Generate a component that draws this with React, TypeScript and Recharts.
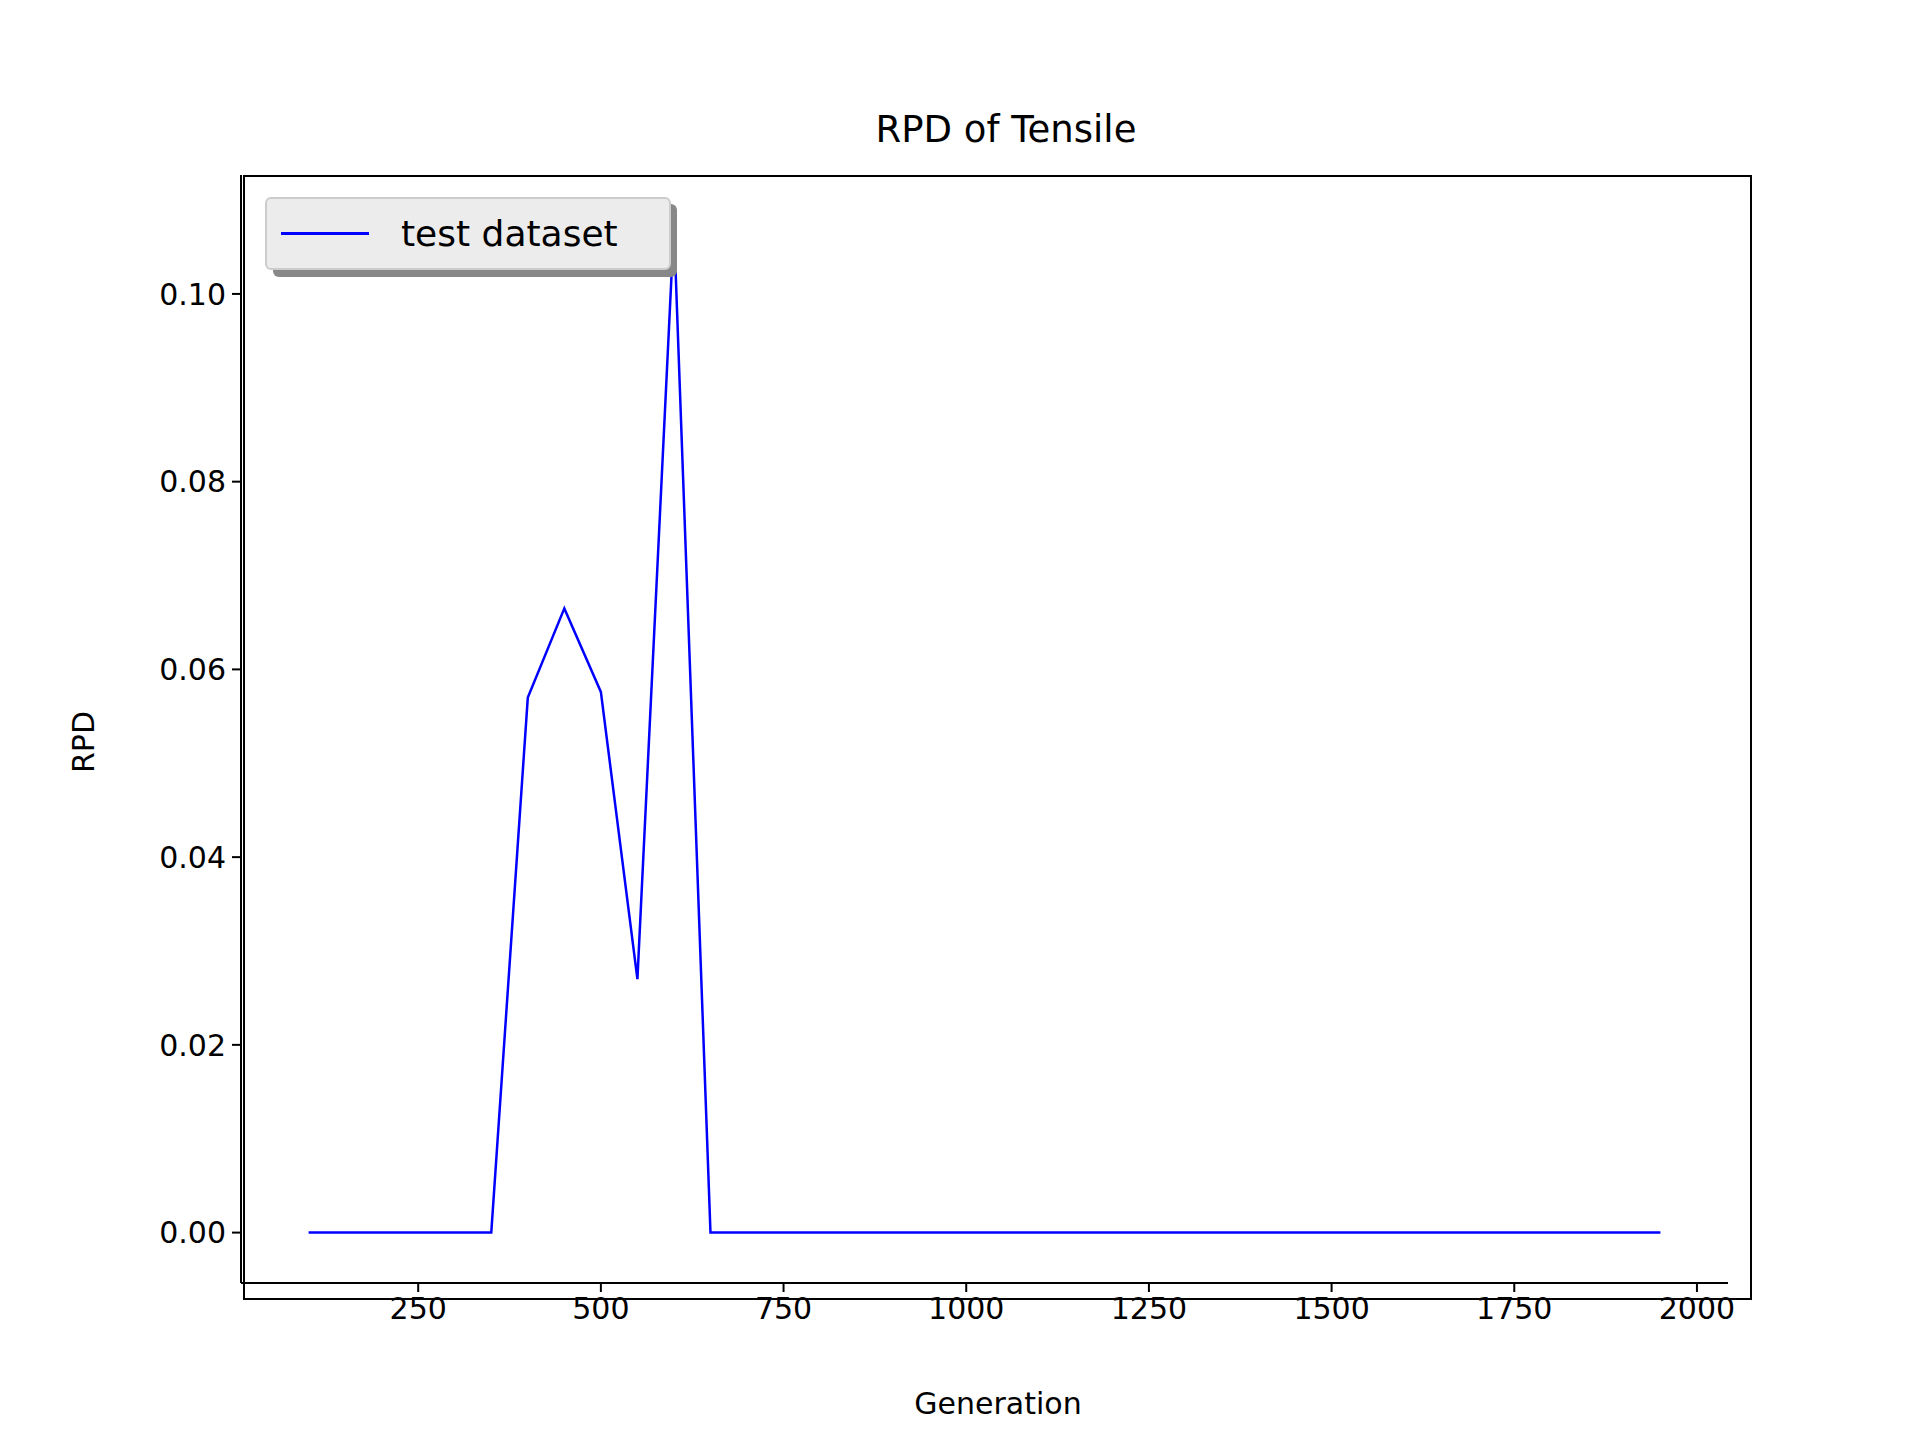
import React from 'react';
import { LineChart, Line, XAxis, YAxis } from 'recharts';

const generations = [100, 150, 200, 250, 300, 350, 400, 450, 500, 550, 600, 650, 700, 750, 800, 850, 900, 950, 1000,
    1050, 1100, 1150, 1200, 1250, 1300, 1350, 1400, 1450, 1500, 1550, 1600, 1650, 1700, 1750, 1800, 1850, 1900, 1950];
const rpd = [0, 0, 0, 0, 0, 0, 0.057, 0.0665, 0.0576, 0.027, 0.1073, 0, 0, 0, 0, 0, 0, 0, 0,
    0, 0, 0, 0, 0, 0, 0, 0, 0, 0, 0, 0, 0, 0, 0, 0, 0, 0, 0];
const xTicks = [250, 500, 750, 1000, 1250, 1500, 1750, 2000];
const yTicks = [0, 0.02, 0.04, 0.06, 0.08, 0.1];

const data = generations.map((g, i) => ({ gen: g, rpd: rpd[i] }));

const font = '"DejaVu Sans", sans-serif';
const tickStyle = { fill: '#000', fontSize: 30, fontFamily: font };

const App: React.FC = () => {
    return (
        <div style={{ position: 'absolute', left: 0, top: 0, width: 1920, height: 1440, background: '#fff', fontFamily: font }}>
            <div style={{ position: 'absolute', top: 108, width: 1920, left: 46, textAlign: 'center', fontSize: 37 }}>RPD of Tensile</div>
            <LineChart width={1920} height={1440} data={data} margin={{ top: 175, right: 192, bottom: 97, left: 141 }}>
                <XAxis dataKey="gen" type="number" domain={[7.5, 2042.5]} ticks={xTicks} height={60}
                    stroke="#000" strokeWidth={2} tickSize={9} tick={tickStyle} tickMargin={6} allowDataOverflow />
                <YAxis type="number" domain={[-0.00537, 0.11267]} ticks={yTicks} width={100}
                    stroke="#000" strokeWidth={2} tickSize={9} tick={tickStyle} tickMargin={6}
                    tickFormatter={(v: number) => v.toFixed(2)} allowDataOverflow />
                <Line dataKey="rpd" stroke="#0000ff" strokeWidth={2.5} dot={false} isAnimationActive={false} />
            </LineChart>
            <div style={{ position: 'absolute', left: 243, top: 175, width: 1509, height: 1125, border: '2px solid #000', boxSizing: 'border-box', pointerEvents: 'none' }} />
            <div style={{ position: 'absolute', left: 0, width: 1996, textAlign: 'center', top: 1386, fontSize: 30 }}>Generation</div>
            <div style={{ position: 'absolute', left: 83, top: 742, fontSize: 30, transform: 'translate(-50%, -50%) rotate(-90deg)' }}>RPD</div>
            <div style={{ position: 'absolute', left: 273, top: 204, width: 404, height: 73, background: '#888', borderRadius: 6 }} />
            <div style={{ position: 'absolute', left: 265, top: 197, width: 406, height: 73, background: '#ececec', border: '2px solid #ccc', borderRadius: 6, boxSizing: 'border-box', display: 'flex', alignItems: 'center' }}>
                <div style={{ width: 88, height: 3, background: '#0000ff', marginLeft: 14 }} />
                <div style={{ marginLeft: 32, fontSize: 36 }}>test dataset</div>
            </div>
        </div>
    );
};

export default App;
